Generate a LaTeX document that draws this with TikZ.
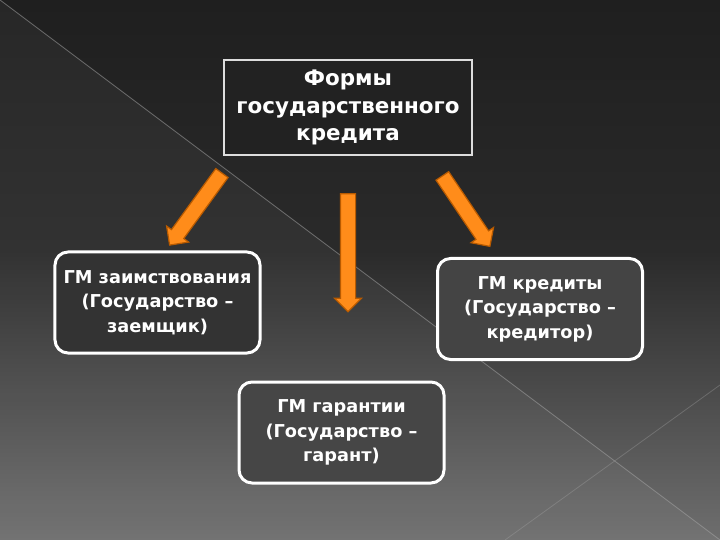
\documentclass[tikz,border=0pt]{standalone}
\usepackage{fontspec}
\setmainfont{DejaVu Sans}
\usetikzlibrary{shapes.arrows}
\definecolor{bgtop}{HTML}{1F1F1F}
\definecolor{bgmid}{HTML}{2A2A2A}
\definecolor{bgbot}{HTML}{6E6E6E}
\definecolor{topfill}{HTML}{222222}
\definecolor{boxline}{HTML}{DDDDDD}
\definecolor{leftfill}{HTML}{333333}
\definecolor{rightfill}{HTML}{444444}
\definecolor{midfill}{HTML}{464646}
\definecolor{arrowfill}{HTML}{FF8C1A}
\definecolor{arrowedge}{HTML}{B85A00}
\begin{document}
\begin{tikzpicture}[x=1bp,y=-1bp,
  topbox/.style={draw=boxline, line width=2.5bp, fill=topfill, minimum width=248bp, minimum height=95bp,
    align=center, text=white, inner sep=0pt, font=\bfseries\fontsize{21.5}{27.5}\selectfont},
  subbox/.style={draw=white, line width=3bp, rounded corners=13bp, minimum width=205bp, minimum height=101bp,
    align=center, text=white, inner sep=0pt, font=\bfseries\fontsize{17.8}{24.5}\selectfont},
  orarrow/.style={single arrow, draw=arrowedge, fill=arrowfill, line width=1.2bp,
    single arrow head extend=6bp, single arrow head indent=0pt, inner xsep=0pt, inner ysep=7bp,
    minimum width=26bp}
]
\useasboundingbox (0,0) rectangle (720,540);
% background
\fill[top color=bgtop, bottom color=bgmid] (0,0) rectangle (720,251);
\fill[top color=bgmid, bottom color=bgbot] (0,250) rectangle (720,540);
\fill[white, opacity=0.04] (0,0) -- (720,540) -- (0,540) -- cycle;
\draw[gray!70, opacity=0.55, line width=0.8bp] (0,0) -- (720,540);
\draw[gray!70, opacity=0.35, line width=0.8bp] (720,385) -- (505,540);

% boxes
\node[topbox] (top) at (348,107.5) {Формы\\государственного\\кредита};
\node[subbox, fill=leftfill] (left) at (157.5,302.5) {ГМ заимствования\\(Государство –\\заемщик)};
\node[subbox, fill=rightfill] (right) at (540,309) {ГМ кредиты\\(Государство –\\кредитор)};
\node[subbox, fill=midfill] (mid) at (341.5,432.5) {ГМ гарантии\\(Государство –\\гарант)};

% arrows
\node[orarrow, minimum height=89bp, rotate=234] (aleft) at (198,206) {};
\node[orarrow, minimum height=118bp, rotate=270] (amid) at (348,249) {};
\node[orarrow, minimum height=85bp, rotate=304] (aright) at (464,208) {};
\end{tikzpicture}
\end{document}
